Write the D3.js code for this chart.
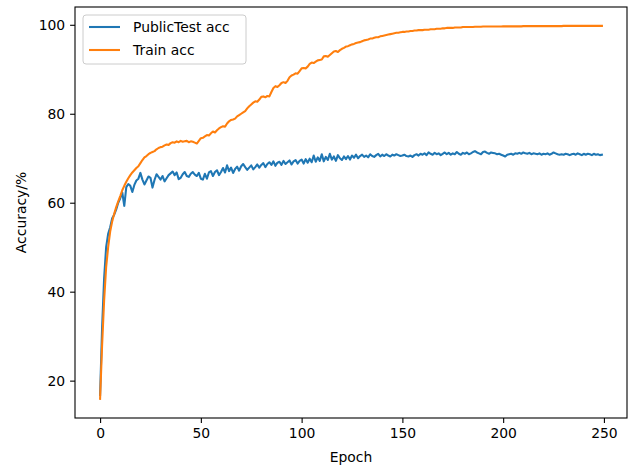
<!DOCTYPE html>
<html>
<head>
<meta charset="utf-8">
<script src="https://d3js.org/d3.v7.min.js"></script>
<style>
 body {margin:0; background:#fff;}
 svg {display:block; font-family:"DejaVu Sans", sans-serif;}
</style>
</head>
<body>
<div id="chart"></div>
<script>
var xTicks = [0, 50, 100, 150, 200, 250];
var yTicks = [20, 40, 60, 80, 100];
var seriesNames = ["PublicTest acc", "Train acc"];

var trainAcc = [
 15.9,28,38,45.5,50,53.5,55.8,57.5,59,60.3,
 61.5,62.8,63.8,64.7,65.5,66.2,66.8,67.3,67.8,68.2,
 68.9,69.6,70.2,70.5,70.9,71.2,71.4,71.6,72.0,72.3,
 72.5,72.6,72.9,73.1,73.0,73.4,73.6,73.5,73.8,73.6,
 73.9,73.7,73.8,73.9,73.6,73.8,73.7,73.5,73.3,73.9,
 74.5,74.6,74.9,75.2,75.1,75.6,76.0,75.8,76.3,76.7,
 77.0,77.2,77.1,77.8,78.3,78.6,78.7,78.9,79.4,79.7,
 80.0,80.3,80.6,81.2,81.7,82.1,82.5,82.8,82.7,83.2,
 83.8,83.9,83.7,84.0,83.9,84.9,85.8,86.2,86.0,86.4,
 86.9,87.1,86.9,87.4,88.2,88.6,88.8,89.1,89.0,89.6,
 90.2,90.3,90.2,90.6,91.2,91.5,91.4,91.7,92.0,92.1,
 92.2,92.9,93.0,92.8,93.2,93.6,94.0,94.1,93.9,94.3,
 94.6,94.8,95.1,95.2,95.4,95.6,95.7,95.9,96.0,96.1,
 96.3,96.5,96.6,96.7,96.9,96.9,97.1,97.2,97.2,97.4,
 97.5,97.6,97.7,97.8,97.9,98.0,98.1,98.2,98.2,98.3,
 98.4,98.4,98.5,98.5,98.6,98.6,98.7,98.7,98.8,98.8,
 98.8,98.9,98.9,98.9,99.0,99.0,99.0,99.1,99.1,99.1,
 99.2,99.2,99.3,99.3,99.3,99.3,99.4,99.4,99.4,99.4,
 99.5,99.5,99.5,99.5,99.5,99.5,99.55,99.55,99.55,99.55,
 99.6,99.6,99.6,99.6,99.6,99.6,99.6,99.6,99.6,99.6,
 99.65,99.65,99.65,99.65,99.65,99.65,99.65,99.65,99.65,99.65,
 99.7,99.7,99.7,99.7,99.7,99.7,99.7,99.7,99.7,99.7,
 99.7,99.7,99.7,99.7,99.7,99.7,99.7,99.7,99.7,99.7,
 99.75,99.75,99.75,99.75,99.75,99.75,99.75,99.75,99.75,99.75,
 99.75,99.75,99.75,99.75,99.75,99.75,99.75,99.75,99.75,99.75
];

var testAcc = [
 16.8,32,43,50,53,54.5,56.5,57.3,58.5,60,
 61,62.3,59.3,63.5,64.2,63.8,62.4,64.0,65.0,65.4,
 66.7,65.2,64.1,65.0,65.9,65.6,63.4,65.1,66.4,65.8,
 65.2,66.0,64.8,65.5,66.2,66.6,67.0,66.2,66.8,65.3,
 65.6,66.4,66.9,66.0,65.8,66.5,66.9,66.3,66.0,66.7,
 65.4,65.2,66.5,65.4,66.8,67.1,66.0,66.9,67.3,66.2,
 66.9,67.8,66.8,68.4,67.1,67.9,66.7,67.6,68.1,67.2,
 68.2,68.7,68.0,67.4,67.9,68.4,67.5,68.0,68.6,67.9,
 68.5,68.9,68.0,68.7,69.1,68.5,69.3,68.3,69.0,69.2,
 68.5,69.4,68.7,69.1,69.5,68.6,69.3,69.6,68.8,69.4,
 69.7,68.8,69.8,69.0,69.9,69.1,70.6,69.2,70.2,69.4,
 70.9,69.3,70.3,69.6,71.0,69.7,70.4,69.4,70.7,70.0,
 69.6,70.4,69.8,70.5,69.7,70.6,70.1,70.8,70.0,70.5,
 70.8,70.3,70.6,70.2,70.9,70.5,70.3,70.7,71.0,70.4,
 70.8,70.5,70.9,70.6,70.4,70.8,70.6,70.9,70.7,70.5,
 70.6,70.8,70.5,70.4,70.6,70.3,70.7,70.9,70.6,71.0,
 70.8,71.1,70.7,71.3,71.0,70.8,71.2,70.9,71.1,70.7,
 71.0,71.3,70.9,71.2,70.8,71.1,70.9,71.4,71.0,70.8,
 71.2,71.0,71.3,70.9,71.1,71.4,71.6,71.3,71.1,70.9,
 71.4,71.5,71.2,71.0,71.3,71.2,71.1,70.9,71.0,70.8,
 70.6,70.4,70.8,70.9,71.0,70.8,71.1,71.0,71.2,71.0,
 71.3,71.1,71.0,71.2,70.9,71.1,71.0,70.9,71.1,70.8,
 71.0,70.9,71.1,70.8,71.0,71.3,71.1,70.9,70.8,70.9,
 70.8,71.0,70.9,70.7,70.9,71.0,70.8,71.1,70.9,70.7,
 71.0,70.8,71.0,70.9,70.7,71.0,70.8,70.9,70.7,70.8
];

var W = 636, H = 468;
var m = {left: 75, top: 7, right: 9, bottom: 50};

var svg = d3.select("#chart").append("svg").attr("width", W).attr("height", H);

var x = d3.scaleLinear().domain([-12.45, 261.45]).range([m.left, W - m.right]);
var y = d3.scaleLinear().domain([11.6, 104.0]).range([H - m.bottom, m.top]);

var g = svg.append("g");

function drawAxis(gen, tr) {
  var a = g.append("g").attr("transform", tr).call(gen);
  a.select(".domain").remove();
  a.selectAll(".tick line").attr("stroke", "#000").attr("stroke-width", 1.1);
  a.selectAll(".tick text").attr("fill", "#000").attr("font-size", "13.9px")
   .attr("font-family", "DejaVu Sans, sans-serif");
  return a;
}
drawAxis(d3.axisBottom(x).tickValues(xTicks).tickSize(4.9).tickPadding(4.9),
  "translate(0," + (H - m.bottom) + ")");
drawAxis(d3.axisLeft(y).tickValues(yTicks).tickSize(4.9).tickPadding(4.9),
  "translate(" + m.left + ",0)");

var line = d3.line().x(function(d, i){ return x(i); }).y(function(d){ return y(d); });

g.append("path").datum(testAcc).attr("d", line).attr("fill", "none")
 .attr("stroke", "#1f77b4").attr("stroke-width", 2.08).attr("stroke-linejoin", "round").attr("stroke-linecap", "square");
g.append("path").datum(trainAcc).attr("d", line).attr("fill", "none")
 .attr("stroke", "#ff7f0e").attr("stroke-width", 2.08).attr("stroke-linejoin", "round").attr("stroke-linecap", "square");

// frame
g.append("rect").attr("x", m.left).attr("y", m.top)
 .attr("width", W - m.left - m.right).attr("height", H - m.top - m.bottom)
 .attr("fill", "none").attr("stroke", "#000").attr("stroke-width", 1.1);

// axis labels
svg.append("text").attr("x", (m.left + W - m.right) / 2).attr("y", 462)
 .attr("text-anchor", "middle").attr("font-size", "13.9px").text("Epoch");
svg.append("text").attr("transform", "translate(26," + ((m.top + H - m.bottom) / 2) + ") rotate(-90)")
 .attr("text-anchor", "middle").attr("font-size", "13.9px").text("Accuracy/%");

// legend
var leg = svg.append("g");
leg.append("rect").attr("x", 83).attr("y", 15).attr("width", 163).attr("height", 49)
 .attr("rx", 3).attr("fill", "#fff").attr("fill-opacity", 0.8).attr("stroke", "#cccccc");
var colors = ["#1f77b4", "#ff7f0e"];
seriesNames.forEach(function(name, i) {
  var yy = 27 + i * 23;
  leg.append("line").attr("x1", 89).attr("x2", 120).attr("y1", yy).attr("y2", yy)
   .attr("stroke", colors[i]).attr("stroke-width", 2.08);
  leg.append("text").attr("x", 133).attr("y", yy + 5).attr("font-size", "13.9px").text(name);
});
</script>
</body>
</html>
